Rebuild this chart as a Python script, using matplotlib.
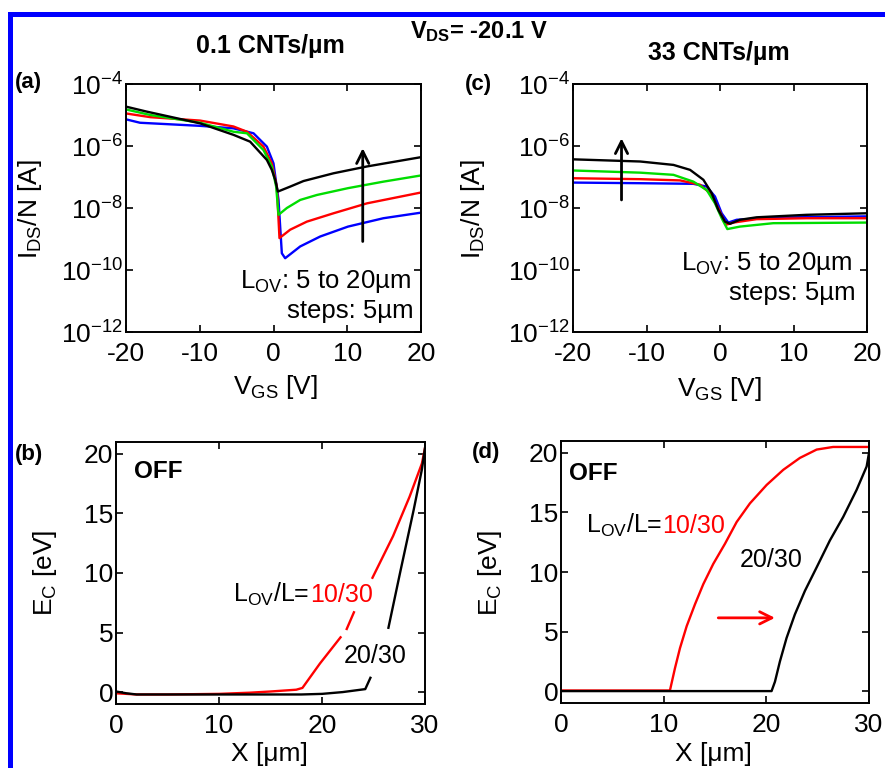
import numpy as np
import matplotlib
matplotlib.use('Agg')
import matplotlib.pyplot as plt
from matplotlib.patches import Rectangle

plt.rcParams['font.family'] = ['Liberation Sans', 'DejaVu Sans']
plt.rcParams['mathtext.fontset'] = 'custom'
plt.rcParams['mathtext.rm'] = 'Liberation Sans'
plt.rcParams['mathtext.it'] = 'Liberation Sans:italic'
plt.rcParams['mathtext.bf'] = 'Liberation Sans:bold'
plt.rcParams['axes.unicode_minus'] = False

# (a) 0.1 CNTs/um : VGS [V] and log10(I_DS/N [A])
a_vgs_k = [-20, -17.2, -9.95, -5.43, -3.17, -0.9, -0.23, 0.23, 0.59, 2.26, 4.07, 8.14, 12.67, 20]
a_log_k = [-4.73, -4.89, -5.27, -5.64, -5.86, -6.45, -6.77, -7.09, -7.47, -7.31, -7.13, -6.88, -6.66, -6.36]
a_vgs_g = [-20, -16.7, -9.95, -5.43, -3.6, -1.36, -0.23, 0.36, 0.68, 1.81, 3.62, 5.88, 10.1, 14.9, 20]
a_log_g = [-4.82, -5.0, -5.25, -5.54, -5.59, -6.13, -6.66, -7.31, -8.22, -8.0, -7.74, -7.58, -7.36, -7.15, -6.95]
a_vgs_r = [-20, -16.7, -9.95, -5.43, -3.6, -1.36, -0.23, 0.45, 0.81, 2.26, 4.52, 8.14, 12.67, 20]
a_log_r = [-4.95, -5.07, -5.18, -5.37, -5.54, -6.02, -6.56, -7.31, -8.97, -8.70, -8.44, -8.17, -7.85, -7.5]
a_vgs_b = [-20, -18.1, -9.95, -5.43, -2.71, -0.9, 0, 0.68, 1.13, 1.58, 3.62, 6.33, 10.1, 14.9, 20]
a_log_b = [-5.14, -5.25, -5.35, -5.43, -5.59, -6.02, -6.56, -7.74, -9.46, -9.62, -9.24, -8.92, -8.6, -8.33, -8.15]

# (c) 33 CNTs/um
c_vgs_k = [-20, -10.86, -6.33, -4.07, -2.26, -1.13, -0.23, 0.68, 1.36, 2.71, 4.98, 11.77, 20]
c_log_k = [-6.43, -6.5, -6.61, -6.77, -7.09, -7.52, -8.06, -8.44, -8.51, -8.38, -8.3, -8.22, -8.17]
c_vgs_g = [-20, -10.86, -6.33, -3.62, -1.81, -0.68, 0.23, 1.0, 2.71, 7.24, 20]
c_log_g = [-6.79, -6.86, -6.93, -7.15, -7.42, -7.85, -8.33, -8.68, -8.6, -8.49, -8.47]
c_vgs_r = [-20, -10.86, -5.43, -2.71, -1.36, -0.23, 0.81, 1.81, 4.98, 11.77, 20]
c_log_r = [-7.04, -7.07, -7.11, -7.25, -7.52, -8.01, -8.54, -8.47, -8.36, -8.33, -8.33]
c_vgs_b = [-20, -10.86, -3.62, -1.81, -0.68, 0.23, 1.13, 2.26, 7.24, 20]
c_log_b = [-7.18, -7.2, -7.22, -7.31, -7.63, -8.17, -8.47, -8.38, -8.31, -8.27]

# (b) conduction band, 0.1 CNTs/um (nan = gap behind labels)
b_x_red = [0, 2, 5, 10, 13, 15, 17.5, 18.1, 19.8, 21.8, np.nan, 22.4, 23.1, np.nan, 24.9, 26.9, 28.5, 29.7, 30]
b_ec_red = [-0.1, -0.2, -0.2, -0.15, -0.05, 0.05, 0.2, 0.35, 2.4, 4.6, np.nan, 5.3, 6.7, np.nan, 9.6, 13.1, 16.4, 19.2, 20.5]
b_x_blk = [0, 1, 2, 5, 10, 15, 18, 20, 22, 24.2, 24.7, np.nan, 26.45, 27.6, 28.9, 29.7, 30]
b_ec_blk = [0.05, -0.1, -0.2, -0.2, -0.2, -0.2, -0.2, -0.15, 0.0, 0.25, 1.2, np.nan, 5.4, 10.1, 15.3, 18.7, 20.5]

# (d) conduction band, 33 CNTs/um
d_x_red = [0, 5, 10, 10.61, 11.1, 11.59, 12.24, 13.05, 13.86, 14.83, 15.97, 17.11, 18.4,
           20.03, 21.65, 23.27, 24.9, 26.5, 30]
d_ec_red = [0.05, 0.05, 0.05, 0.05, 1.92, 3.61, 5.45, 7.29, 8.98, 10.68, 12.37, 14.2, 15.76,
            17.31, 18.58, 19.58, 20.28, 20.5, 20.5]
d_x_blk = [0, 5, 10, 15, 20.51, 20.84, 21.32, 21.97, 22.78, 23.76, 24.9, 26.19, 27.49, 28.79, 29.77, 30]
d_ec_blk = [0, 0, 0, 0, 0, 0.79, 2.48, 4.46, 6.44, 8.42, 10.39, 12.65, 14.63, 16.89, 18.86, 20.0]

green = '#00dd00'
lw = 1.7
tfs = 19
W, H = 885.0, 768.0

fig = plt.figure(figsize=(8.85, 7.68), dpi=100)

def box(l, t, r, b):
    return [l / W, 1 - b / H, (r - l) / W, (b - t) / H]

def style(ax):
    ax.tick_params(direction='in', top=True, right=True, length=5, width=1.2,
                   labelsize=tfs)
    ax.tick_params(axis='x', pad=7)
    ax.tick_params(axis='y', pad=2)
    for s in ax.spines.values():
        s.set_linewidth(1.4)

ylog_ticks = [1e-12, 1e-10, 1e-8, 1e-6, 1e-4]
ylog_labels = [r'$\mathregular{10^{-12}}$', r'$\mathregular{10^{-10}}$', r'$\mathregular{10^{-8}}$',
               r'$\mathregular{10^{-6}}$', r'$\mathregular{10^{-4}}$']

def iv_panel(pos, curves, arrow_x, arrow_lo, arrow_hi, txt_pos):
    ax = fig.add_axes(pos)
    for xs, ls, c in curves:
        ax.semilogy(xs, 10 ** np.array(ls), color=c, lw=lw)
    ax.set_xlim(-20, 20)
    ax.set_ylim(1e-12, 1e-4)
    ax.set_xticks([-20, -10, 0, 10, 20])
    ax.set_yticks(ylog_ticks)
    ax.set_yticklabels(ylog_labels)
    ax.minorticks_off()
    style(ax)
    ax.annotate('', xy=(arrow_x, 10 ** arrow_hi), xytext=(arrow_x, 10 ** arrow_lo),
                arrowprops=dict(arrowstyle='->', color='k', lw=2, mutation_scale=22,
                                shrinkA=0, shrinkB=0))
    (x1, y1), (x2, y2) = txt_pos
    ax.text(x1, y1, r'L$_{\mathregular{OV}}$: 5 to 20µm', transform=ax.transAxes,
            ha='right', va='baseline', fontsize=18.5)
    ax.text(x2, y2, 'steps: 5µm', transform=ax.transAxes,
            ha='right', va='baseline', fontsize=18.5)
    return ax

ax_a = iv_panel(box(126, 84, 421, 332),
                [(a_vgs_b, a_log_b, 'b'), (a_vgs_r, a_log_r, 'r'),
                 (a_vgs_g, a_log_g, green), (a_vgs_k, a_log_k, 'k')],
                12.1, -9.08, -6.07, ((0.966, 0.177), (0.975, 0.056)))
ax_c = iv_panel(box(573, 84, 867, 332),
                [(c_vgs_b, c_log_b, 'b'), (c_vgs_r, c_log_r, 'r'),
                 (c_vgs_g, c_log_g, green), (c_vgs_k, c_log_k, 'k')],
                -13.4, -7.74, -5.75, ((0.95, 0.248), (0.96, 0.130)))

def ec_panel(pos, xr, yr, xk, yk):
    ax = fig.add_axes(pos)
    ax.plot(xr, yr, color='r', lw=lw)
    ax.plot(xk, yk, color='k', lw=lw)
    ax.set_xlim(0, 30)
    ax.set_ylim(-1, 21)
    ax.set_xticks([0, 10, 20, 30])
    ax.set_yticks([0, 5, 10, 15, 20])
    style(ax)
    return ax

ax_b = ec_panel(box(116, 442, 425, 704), b_x_red, b_ec_red, b_x_blk, b_ec_blk)
ax_d = ec_panel(box(561, 441, 869, 703), d_x_red, d_ec_red, d_x_blk, d_ec_blk)

fig.canvas.draw()

def lov_label(ax, x, y):
    t = ax.text(x, y, r'L$_{\mathregular{OV}}$/L=', ha='left', va='baseline', fontsize=18)
    ax.annotate('10/30', xy=(1, y), xycoords=(t, 'data'), ha='left', va='baseline',
                fontsize=18, color='r')

ax_b.text(1.7, 18.0, 'OFF', fontsize=17.5, fontweight='bold', va='baseline')
lov_label(ax_b, 11.4, 7.6)
ax_b.text(22.1, 2.43, '20/30', fontsize=18, va='baseline')

ax_d.text(0.75, 17.7, 'OFF', fontsize=17.5, fontweight='bold', va='baseline')
lov_label(ax_d, 2.4, 13.3)
ax_d.text(17.37, 10.39, '20/30', fontsize=18, va='baseline')
ax_d.annotate('', xy=(20.84, 6.15), xytext=(15.32, 6.15),
              arrowprops=dict(arrowstyle='->', color='r', lw=2, mutation_scale=22,
                              shrinkA=0, shrinkB=0))

def ftext(x, y, s, **kw):
    fig.text(x / W, 1 - y / H, s, **kw)

# titles and panel letters
ftext(479, 38, r'V$_{\mathregular{DS}}$= -20.1 V', ha='center', va='baseline', fontsize=17, fontweight='bold')
ftext(270, 53, '0.1 CNTs/µm', ha='center', va='baseline', fontsize=18, fontweight='bold')
ftext(719, 60, '33 CNTs/µm', ha='center', va='baseline', fontsize=18, fontweight='bold')
ftext(15, 88, '(a)', ha='left', va='baseline', fontsize=16, fontweight='bold')
ftext(465, 90, '(c)', ha='left', va='baseline', fontsize=16, fontweight='bold')
ftext(15, 460, '(b)', ha='left', va='baseline', fontsize=16, fontweight='bold')
ftext(472, 458, '(d)', ha='left', va='baseline', fontsize=16, fontweight='bold')

# axis labels
ftext(30, 209, r'I$_{\mathregular{DS}}$/N [A]', ha='center', va='center', rotation=90, fontsize=tfs)
ftext(473, 209, r'I$_{\mathregular{DS}}$/N [A]', ha='center', va='center', rotation=90, fontsize=tfs)
ftext(275, 394, r'V$_{\mathregular{GS}}$ [V]', ha='center', va='baseline', fontsize=tfs)
ftext(719, 396, r'V$_{\mathregular{GS}}$ [V]', ha='center', va='baseline', fontsize=tfs)
ftext(45, 573, r'E$_{\mathregular{C}}$ [eV]', ha='center', va='center', rotation=90, fontsize=tfs)
ftext(490, 573, r'E$_{\mathregular{C}}$ [eV]', ha='center', va='center', rotation=90, fontsize=tfs)
ftext(269, 761, 'X [μm]', ha='center', va='baseline', fontsize=tfs)
ftext(713, 761, 'X [μm]', ha='center', va='baseline', fontsize=tfs)

# blue frame (top and left edges)
fig.add_artist(Rectangle((8 / W, 0), 5 / W, (768 - 12) / H, transform=fig.transFigure,
                         color='#0000ff', lw=0))
fig.add_artist(Rectangle((8 / W, 1 - 17 / H), 1 - 8 / W, 5 / H, transform=fig.transFigure,
                         color='#0000ff', lw=0))

fig.savefig('out.png', dpi=100)
